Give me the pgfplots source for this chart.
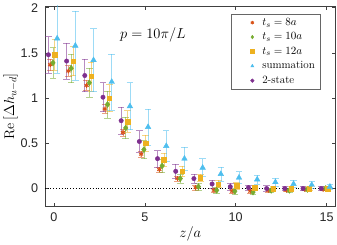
\documentclass[border=0pt]{standalone}
\usepackage{pgfplots}
\usepackage{pgfplotstable}
\usepackage{fontspec}
\pgfplotsset{compat=1.18}
\newfontfamily\arial{Liberation Sans}
\definecolor{mred}{HTML}{D95319}
\definecolor{mgreen}{HTML}{77AC30}
\definecolor{myellow}{HTML}{EDB120}
\definecolor{mcyan}{HTML}{4DBEEE}
\definecolor{mpurple}{HTML}{7E2F8E}
\pgfplotsset{legimg/.style={legend image code/.code={\path (-0.33cm,-0.1cm) (0.56cm,0.1cm); \draw[mark repeat=2,mark phase=2,mark size=1.8bp] plot coordinates {(0cm,0cm) (0.3cm,0cm) (0.6cm,0cm)};}}}

\pgfplotstableread{
z v e
0 1.48 0.20
1 1.41 0.20
2 1.25 0.18
3 1.01 0.16
4 0.75 0.15
5 0.52 0.12
6 0.33 0.09
7 0.19 0.08
8 0.11 0.05
9 0.05 0.045
10 0.02 0.04
11 0.01 0.03
12 0.00 0.03
13 0.00 0.02
14 0.00 0.02
15 0.00 0.02
}\tpurple
\pgfplotstableread{
z v e
0 1.37 0.065
1 1.30 0.06
2 1.14 0.055
3 0.88 0.05
4 0.62 0.04
5 0.38 0.035
6 0.21 0.03
7 0.11 0.03
8 0.01 0.025
9 -0.02 0.02
10 -0.03 0.02
11 -0.03 0.02
12 -0.02 0.02
13 -0.02 0.015
14 -0.01 0.015
15 -0.01 0.015
}\tred
\pgfplotstableread{
z v e
0 1.39 0.17
1 1.33 0.16
2 1.17 0.16
3 0.93 0.15
4 0.67 0.12
5 0.43 0.10
6 0.25 0.07
7 0.11 0.05
8 0.02 0.04
9 -0.02 0.03
10 -0.03 0.03
11 -0.04 0.025
12 -0.02 0.02
13 -0.02 0.02
14 -0.01 0.02
15 0.00 0.02
}\tgreen
\pgfplotstableread{
z v e
0 1.48 0.17
1 1.41 0.16
2 1.24 0.16
3 1.00 0.15
4 0.74 0.12
5 0.50 0.09
6 0.32 0.07
7 0.19 0.06
8 0.12 0.04
9 0.05 0.04
10 0.03 0.035
11 0.01 0.03
12 0.00 0.025
13 0.00 0.02
14 0.00 0.02
15 0.00 0.02
}\tyellow
\pgfplotstableread{
z v e
0 1.66 0.38
1 1.58 0.38
2 1.42 0.35
3 1.18 0.31
4 0.91 0.26
5 0.68 0.20
6 0.47 0.17
7 0.33 0.13
8 0.23 0.10
9 0.16 0.08
10 0.12 0.065
11 0.10 0.05
12 0.07 0.045
13 0.05 0.04
14 0.04 0.035
15 0.02 0.03
}\tcyan

\begin{document}
\begin{tikzpicture}
\begin{axis}[
  scale only axis,
  width=288bp, height=198.6bp,
  xmin=-0.5, xmax=15.5, ymin=-0.2, ymax=2.02,
  xtick={0,5,10,15}, ytick={0,0.5,1,1.5,2},
  tick align=inside, major tick length=4bp,
  axis line style={black!75, line width=0.5pt},
  every tick/.style={black!75, line width=0.5pt},
  ticklabel style={font=\arial\fontsize{12.5}{14}\selectfont, text=black!85},
  /pgf/number format/assume math mode=true,
  xticklabel style={yshift=-3bp},
  yticklabel style={xshift=-3bp},
  xlabel={$z/a$},
  ylabel={$\mathrm{Re}\,[\Delta h_{u-d}]$},
  label style={font=\fontsize{14}{16}\selectfont},
  xlabel style={yshift=2bp},
  ylabel style={yshift=-4bp},
  legend style={at={(0.946,0.962)}, anchor=north east, draw=black!60,
     font=\fontsize{11}{13}\selectfont, row sep=1.8bp, inner xsep=3bp, inner ysep=2.5bp,
     cells={anchor=west}},
  error bars/error bar style={line width=0.6pt, opacity=0.55},
  error bars/error mark options={rotate=90, mark size=3.2bp, line width=0.6pt, opacity=0.55},
]
\addplot[black, dotted, line width=0.8pt, forget plot] coordinates {(-0.5,0) (15.5,0)};
\addplot[only marks, legimg, mark=asterisk, mark size=2.4bp, line width=1pt, color=mred,
  error bars/.cd, y dir=both, y explicit]
  table[x expr=\thisrow{z}-0.2, y=v, y error=e]{\tred};
\addlegendentry{$t_s = 8a$}
\addplot[only marks, legimg, mark=diamond*, mark size=3bp, color=mgreen,
  error bars/.cd, y dir=both, y explicit]
  table[x expr=\thisrow{z}-0.05, y=v, y error=e]{\tgreen};
\addlegendentry{$t_s = 10a$}
\addplot[only marks, legimg, mark=square*, mark size=2.2bp, color=myellow,
  error bars/.cd, y dir=both, y explicit]
  table[x expr=\thisrow{z}+0.05, y=v, y error=e]{\tyellow};
\addlegendentry{$t_s = 12a$}
\addplot[only marks, legimg, mark=triangle*, mark size=3.2bp, color=mcyan,
  error bars/.cd, y dir=both, y explicit]
  table[x expr=\thisrow{z}+0.18, y=v, y error=e]{\tcyan};
\addlegendentry{summation}
\addplot[only marks, legimg, mark=*, mark size=2.2bp, color=mpurple,
  error bars/.cd, y dir=both, y explicit]
  table[x expr=\thisrow{z}-0.3, y=v, y error=e]{\tpurple};
\addlegendentry{2-state}
\node[font=\fontsize{14}{16}\selectfont] at (axis cs:5.45,1.70) {$p = 10\pi/L$};
\end{axis}
\end{tikzpicture}
\end{document}
